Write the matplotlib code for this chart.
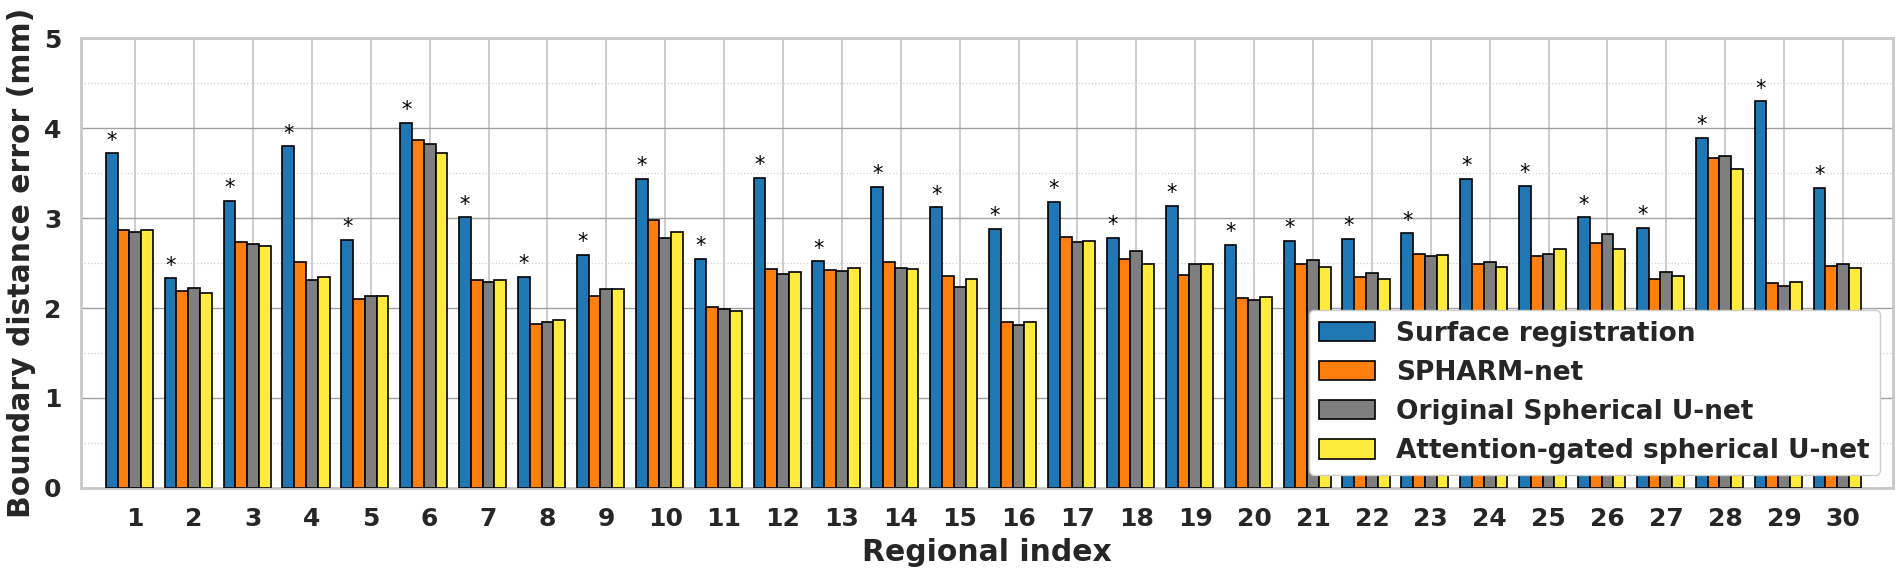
#!/usr/bin/env python3
"""Regional boundary distance error for four parcellation methods."""
import matplotlib

matplotlib.use("Agg")
import matplotlib.pyplot as plt
import numpy as np
from matplotlib.ticker import MultipleLocator

regions = list(range(1, 31))

surface_reg = [3.72, 2.33, 3.19, 3.80, 2.76, 4.06, 3.01, 2.35, 2.59, 3.44,
               2.55, 3.45, 2.52, 3.35, 3.12, 2.88, 3.18, 2.78, 3.14, 2.70,
               2.75, 2.77, 2.83, 3.44, 3.36, 3.01, 2.89, 3.89, 4.30, 3.34]
spharm_net = [2.87, 2.19, 2.73, 2.51, 2.10, 3.87, 2.31, 1.82, 2.13, 2.98,
              2.01, 2.43, 2.42, 2.51, 2.36, 1.84, 2.79, 2.55, 2.37, 2.11,
              2.49, 2.35, 2.60, 2.49, 2.58, 2.72, 2.32, 3.67, 2.28, 2.47]
orig_unet = [2.85, 2.22, 2.71, 2.31, 2.13, 3.83, 2.29, 1.84, 2.21, 2.78,
             1.99, 2.38, 2.41, 2.45, 2.23, 1.81, 2.74, 2.63, 2.49, 2.09,
             2.53, 2.39, 2.58, 2.51, 2.60, 2.82, 2.40, 3.69, 2.24, 2.49]
attn_unet = [2.87, 2.17, 2.69, 2.35, 2.13, 3.72, 2.31, 1.87, 2.21, 2.85,
             1.97, 2.40, 2.44, 2.43, 2.32, 1.84, 2.75, 2.49, 2.49, 2.12,
             2.46, 2.32, 2.59, 2.46, 2.66, 2.66, 2.36, 3.55, 2.29, 2.45]

# one star per region, on top of the surface registration bar
significant = [True] * 30

SERIES = [
    ("Surface registration", surface_reg, "#1f77b4"),
    ("SPHARM-net", spharm_net, "#ff7f0e"),
    ("Original Spherical U-net", orig_unet, "#7f7f7f"),
    ("Attention-gated spherical U-net", attn_unet, "#ffeb3b"),
]


def main():
    fig = plt.figure(figsize=(19.02, 5.76), dpi=100)
    ax = fig.add_axes([0.0426, 0.153, 0.9527, 0.7805])

    x = np.array(regions, dtype=float)
    width = 0.2
    for k, (label, vals, color) in enumerate(SERIES):
        ax.bar(x - 0.5 + k * width, vals, width, align="edge", color=color,
               edgecolor="black", linewidth=1.2, label=label, zorder=3)

    for xi, v, sig in zip(x, surface_reg, significant):
        if sig:
            ax.text(xi - 0.5 + width / 2, v + 0.03, "*", ha="center",
                    va="bottom", fontsize=15, color="black", zorder=4)

    ax.set_xlim(0.08, 30.85)
    ax.set_ylim(0, 5)
    ax.set_xticks(regions)
    ax.set_xticklabels([str(r) for r in regions])
    ax.yaxis.set_major_locator(MultipleLocator(1))
    ax.yaxis.set_minor_locator(MultipleLocator(0.5))

    ax.set_axisbelow(True)
    ax.xaxis.grid(True, color="#c8c8c8", linewidth=1.3, zorder=0)
    ax.yaxis.grid(True, which="major", color="#a0a0a0", linewidth=1.0, zorder=0)
    ax.yaxis.grid(True, which="minor", color="#d0d0d0", linewidth=0.9,
                  linestyle=":", zorder=0)

    for s in ax.spines.values():
        s.set_color("#c8c8c8")
        s.set_linewidth(2.0)

    ax.tick_params(axis="both", which="both", length=0)
    ax.tick_params(axis="x", pad=14, labelsize=18, labelcolor="#262626")
    ax.tick_params(axis="y", pad=14, labelsize=18, labelcolor="#262626")
    for lab in ax.get_xticklabels() + ax.get_yticklabels():
        lab.set_fontweight("bold")

    ax.set_xlabel("Regional index", fontsize=21.5, fontweight="bold",
                  color="#262626", labelpad=5)
    ax.set_ylabel("Boundary distance error (mm)", fontsize=21.5,
                  fontweight="bold", color="#262626", labelpad=6)

    leg = ax.legend(loc="lower right", prop={"size": 19, "weight": "bold"},
                    frameon=True, fancybox=True, framealpha=1.0,
                    edgecolor="#cccccc", labelspacing=0.5,
                    handlelength=2.1, handleheight=0.75, borderpad=0.4)
    for t in leg.get_texts():
        t.set_color("#262626")
    leg.set_zorder(5)

    fig.savefig("out.png", dpi=100)


if __name__ == "__main__":
    main()
